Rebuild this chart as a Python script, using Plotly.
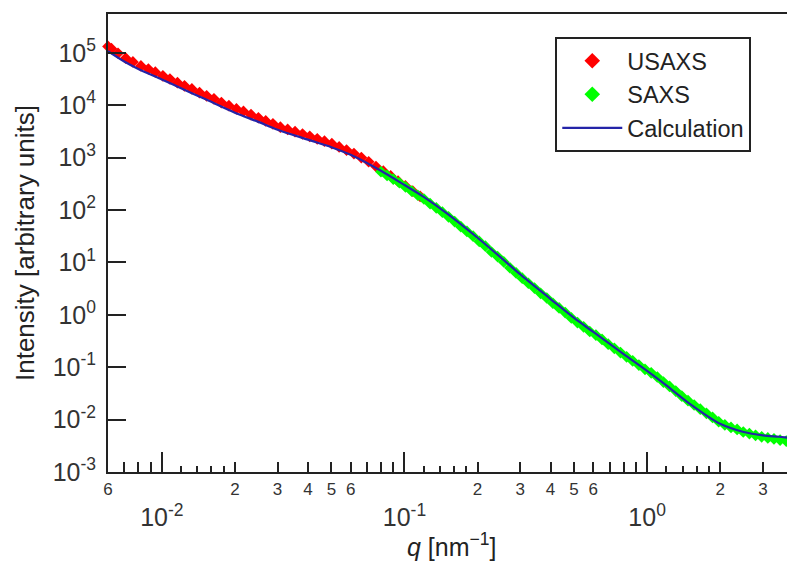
import math
import plotly.graph_objects as go

# ---- data ----
usaxs_q = [0.0060, 0.0062, 0.0066, 0.0071, 0.0076, 0.0082, 0.0088, 0.0094, 0.0101, 0.0108,
           0.0116, 0.0124, 0.0133, 0.0143, 0.0153, 0.0164, 0.0176, 0.0189, 0.0203, 0.0217,
           0.0233, 0.0250, 0.0268, 0.0287, 0.0308, 0.0330, 0.0354, 0.0380, 0.0407, 0.0437,
           0.0468, 0.0502, 0.0538, 0.0577, 0.0619, 0.0664, 0.0712, 0.0763, 0.0818, 0.0877,
           0.0941, 0.1009, 0.1082, 0.1160]
usaxs_I = [1.32e5, 1.20e5, 9.8e4, 7.9e4, 6.7e4, 5.6e4, 4.9e4, 4.27e4, 3.63e4, 3.16e4,
           2.69e4, 2.34e4, 2.04e4, 1.74e4, 1.51e4, 1.32e4, 1.12e4, 9.8e3, 8.5e3, 7.6e3,
           6.6e3, 5.75e3, 5.0e3, 4.4e3, 3.8e3, 3.45e3, 3.12e3, 2.82e3, 2.55e3, 2.28e3,
           2.06e3, 1.84e3, 1.60e3, 1.39e3, 1.19e3, 1.0e3, 832, 676, 550, 447,
           355, 288, 229, 182]

saxs_q = [0.0800, 0.0848, 0.0899, 0.0953, 0.1010, 0.1071, 0.1135, 0.1203, 0.1275, 0.1352,
          0.1433, 0.1519, 0.1610, 0.1707, 0.1809, 0.1918, 0.2033, 0.2155, 0.2284, 0.2421,
          0.2566, 0.2720, 0.2884, 0.3057, 0.3240, 0.3434, 0.3640, 0.3859, 0.4090, 0.4336,
          0.4596, 0.4871, 0.5164, 0.5474, 0.5802, 0.6150, 0.6519, 0.6910, 0.7325, 0.7765,
          0.8230, 0.8724, 0.9248, 0.9802, 1.0391, 1.1014, 1.1675, 1.2376, 1.3118, 1.3905,
          1.4740, 1.5624, 1.6562, 1.7555, 1.8608, 1.9725, 2.0908, 2.2163, 2.3493, 2.4902,
          2.6396, 2.7980, 2.9659, 3.1438, 3.3325, 3.5324, 3.7444, 3.9690, 4.2072]
saxs_I = [537, 457, 389, 331, 275, 229, 191, 162, 132, 110,
          91, 74, 60, 48, 39, 31.6, 25.1, 20.4, 15.8, 12.9,
          10.2, 7.9, 6.3, 5.0, 4.0, 3.24, 2.57, 2.09, 1.66, 1.35,
          1.10, 0.87, 0.71, 0.59, 0.48, 0.41, 0.339, 0.275, 0.229, 0.19,
          0.158, 0.132, 0.110, 0.091, 0.078, 0.065, 0.052, 0.043, 0.035, 0.028,
          0.023, 0.019, 0.0158, 0.0132, 0.011, 0.0091, 0.0079, 0.0071, 0.0065, 0.0058,
          0.0054, 0.0050, 0.0047, 0.00447, 0.00427, 0.00407, 0.00389, 0.00372, 0.00355]

calc_q = [0.006, 0.007, 0.008, 0.01, 0.012, 0.015, 0.02, 0.025, 0.03, 0.04, 0.05, 0.06,
          0.07, 0.08, 0.1, 0.12, 0.15, 0.2, 0.25, 0.3, 0.4, 0.5, 0.6, 0.8, 1.0, 1.2, 1.5,
          2.0, 2.5, 3.0, 3.5, 4.0, 4.2]
calc_I = [1.07e5, 6.8e4, 4.9e4, 3.1e4, 2.1e4, 1.32e4, 7.2e3, 4.8e3, 3.4e3, 2.2e3, 1.58e3,
          1.13e3, 790, 560, 300, 178, 85, 29.5, 12.3, 5.9, 2.0, 0.87, 0.47, 0.178, 0.085,
          0.045, 0.020, 0.0083, 0.0058, 0.0050, 0.0047, 0.0044, 0.00437]

x_tick_vals = [0.006, 0.007, 0.008, 0.009,
               0.02, 0.03, 0.04, 0.05, 0.06, 0.07, 0.08, 0.09,
               0.2, 0.3, 0.4, 0.5, 0.6, 0.7, 0.8, 0.9,
               2, 3, 4]
x_tick_text = ["6", "", "", "",
               "2", "3", "4", "5", "6", "", "", "",
               "2", "3", "4", "5", "6", "", "", "",
               "2", "3", "4"]
x_minor_vals = [0.012, 0.014, 0.016, 0.018, 0.12, 0.14, 0.16, 0.18, 1.2, 1.4, 1.6, 1.8]
x_decade_vals = [0.01, 0.1, 1]
x_decade_text = ["10<sup>-2</sup>", "10<sup>-1</sup>", "10<sup>0</sup>"]
y_tick_vals = [1e-3, 1e-2, 1e-1, 1e0, 1e1, 1e2, 1e3, 1e4, 1e5]
y_tick_text = ["10<sup>-3</sup>", "10<sup>-2</sup>", "10<sup>-1</sup>", "10<sup>0</sup>",
               "10<sup>1</sup>", "10<sup>2</sup>", "10<sup>3</sup>", "10<sup>4</sup>",
               "10<sup>5</sup>"]

FONT = "Liberation Sans, Arial, sans-serif"
RED = "#ff0000"
GREEN = "#00ff00"
BLUE = "#2424a8"
AX = "#222222"

fig = go.Figure()
fig.add_trace(go.Scatter(x=usaxs_q, y=usaxs_I, mode="markers", name="USAXS",
                         marker=dict(symbol="diamond", size=9, color=RED),
                         cliponaxis=False, showlegend=False))
fig.add_trace(go.Scatter(x=saxs_q, y=saxs_I, mode="markers", name="SAXS",
                         marker=dict(symbol="diamond", size=9, color=GREEN),
                         showlegend=False))
fig.add_trace(go.Scatter(x=calc_q, y=calc_I, mode="lines", name="Calculation",
                         line=dict(color=BLUE, width=2.2, shape="spline", smoothing=0.8),
                         showlegend=False))
# legend entries
fig.add_trace(go.Scatter(x=[None], y=[None], mode="markers", name="USAXS",
                         marker=dict(symbol="diamond", size=12, color=RED)))
fig.add_trace(go.Scatter(x=[None], y=[None], mode="markers", name="SAXS",
                         marker=dict(symbol="diamond", size=12, color=GREEN)))
fig.add_trace(go.Scatter(x=[None], y=[None], mode="lines", name="Calculation",
                         line=dict(color=BLUE, width=2.2)))
# dummy trace for decade axis
fig.add_trace(go.Scatter(x=[0.01], y=[1], mode="markers", xaxis="x2",
                         marker=dict(opacity=0), showlegend=False, hoverinfo="skip"))

# the page body adds an 8px offset, so the figure is 8px smaller on each side
xr = [math.log10(0.006), math.log10(4.03)]
fig.update_layout(
    width=787, height=555,
    margin=dict(l=100, r=1, t=6, b=91),
    paper_bgcolor="white", plot_bgcolor="white",
    font=dict(family=FONT, color="#222"),
    xaxis=dict(type="log", range=xr, showgrid=False, zeroline=False, automargin=False,
               showline=True, linecolor=AX, linewidth=2, mirror=True,
               ticks="inside", ticklen=10, tickwidth=1.5, tickcolor=AX,
               tickmode="array", tickvals=x_tick_vals, ticktext=x_tick_text,
               tickfont=dict(size=17, color="#333", family=FONT),
               ticklabelstandoff=1, ticklabeloverflow="allow",
               minor=dict(tickmode="array", tickvals=x_minor_vals, ticks="inside",
                          ticklen=6, tickwidth=1.5, tickcolor=AX, showgrid=False)),
    xaxis2=dict(type="log", range=xr, overlaying="x", anchor="y", side="bottom",
                showgrid=False, zeroline=False, showline=False, automargin=False,
                ticks="inside", ticklen=20, tickwidth=1.5, tickcolor=AX,
                tickmode="array", tickvals=x_decade_vals, ticktext=x_decade_text,
                tickfont=dict(size=25, color="#333", family=FONT),
                ticklabelstandoff=28),
    yaxis=dict(type="log", range=[-3, 5.74], showgrid=False, zeroline=False, automargin=False,
               showline=True, linecolor=AX, linewidth=2, mirror=True,
               ticks="inside", ticklen=18, tickwidth=2, tickcolor=AX,
               tickmode="array", tickvals=y_tick_vals, ticktext=y_tick_text,
               tickfont=dict(size=25, color="#333", family=FONT),
               ticklabelstandoff=5),
    legend=dict(x=0.652, y=0.95, xanchor="left", yanchor="top",
                bgcolor="white", bordercolor=AX, borderwidth=2,
                font=dict(size=23.5, color="#222", family=FONT),
                tracegroupgap=0, itemwidth=60),
    showlegend=True,
    annotations=[
        dict(text="Intensity [arbitrary units]", xref="paper", yref="paper",
             x=-0.121, y=0.5, xanchor="center", yanchor="middle", textangle=-90,
             showarrow=False, font=dict(size=26, color="#222", family=FONT)),
        dict(text="<i>q</i> [nm<sup>\u22121</sup>]", xref="paper", yref="paper",
             x=0.5, y=-0.16, xanchor="center", yanchor="middle",
             showarrow=False, font=dict(size=25, color="#222", family=FONT)),
    ],
)

fig.write_html("out.html")
